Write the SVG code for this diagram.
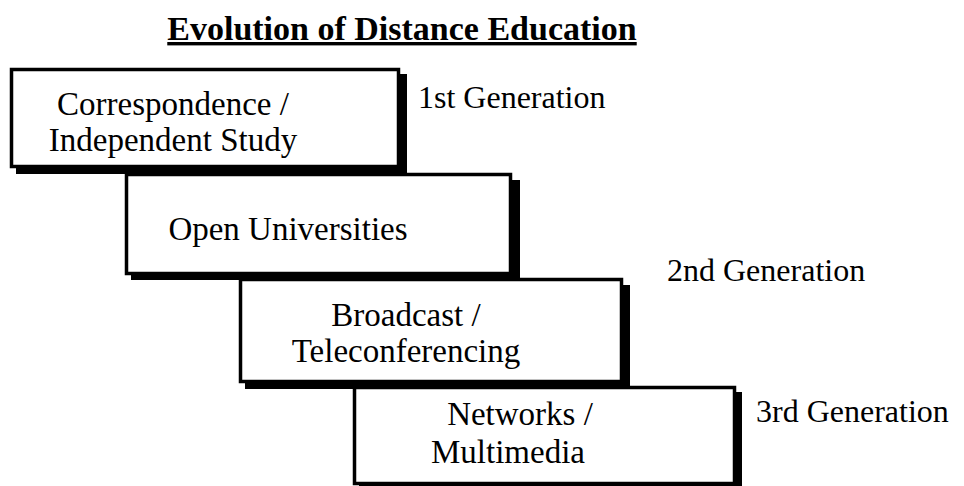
<svg xmlns="http://www.w3.org/2000/svg" width="964" height="486" viewBox="0 0 964 486">
  <style>
    .title { font-family: "Liberation Serif", "Times New Roman", serif; font-size: 34px; font-weight: bold; text-decoration: underline; }
    .label { font-family: "Liberation Serif", "Times New Roman", serif; font-size: 33px; fill: #000; }
    .gen { font-family: "Liberation Serif", "Times New Roman", serif; font-size: 32px; fill: #000; }
    .box { fill: #fff; stroke: #000; stroke-width: 3.5; }
    .shadow { fill: #000; }
  </style>
  <rect width="964" height="486" fill="#fff"/>

  <text class="title" x="402" y="40" text-anchor="middle">Evolution of Distance Education</text>

  <g id="stage1">
    <rect class="shadow" x="16" y="74" width="391" height="100"/>
    <rect class="box" x="11.5" y="69.5" width="387" height="97"/>
    <text class="label" x="173" y="115" text-anchor="middle">Correspondence /</text>
    <text class="label" x="173" y="151" text-anchor="middle">Independent Study</text>
  </g>

  <g id="stage2">
    <rect class="shadow" x="131" y="180" width="389" height="100"/>
    <rect class="box" x="126.5" y="174.5" width="384" height="99"/>
    <text class="label" x="288" y="240" text-anchor="middle">Open Universities</text>
  </g>

  <g id="stage3">
    <rect class="shadow" x="245" y="285" width="385" height="104"/>
    <rect class="box" x="240.5" y="279.5" width="381" height="102"/>
    <text class="label" x="406" y="326" text-anchor="middle">Broadcast /</text>
    <text class="label" x="406" y="362" text-anchor="middle">Teleconferencing</text>
  </g>

  <g id="stage4">
    <rect class="shadow" x="359" y="392" width="383" height="100"/>
    <rect class="box" x="354.5" y="387.5" width="380" height="96"/>
    <text class="label" x="520" y="425" text-anchor="middle">Networks /</text>
    <text class="label" x="508" y="463" text-anchor="middle">Multimedia</text>
  </g>

  <g id="connectors"></g>

  <g id="generations">
    <text class="gen" x="418" y="108">1st Generation</text>
    <text class="gen" x="667" y="281">2nd Generation</text>
    <text class="gen" x="756" y="422">3rd Generation</text>
  </g>
</svg>
